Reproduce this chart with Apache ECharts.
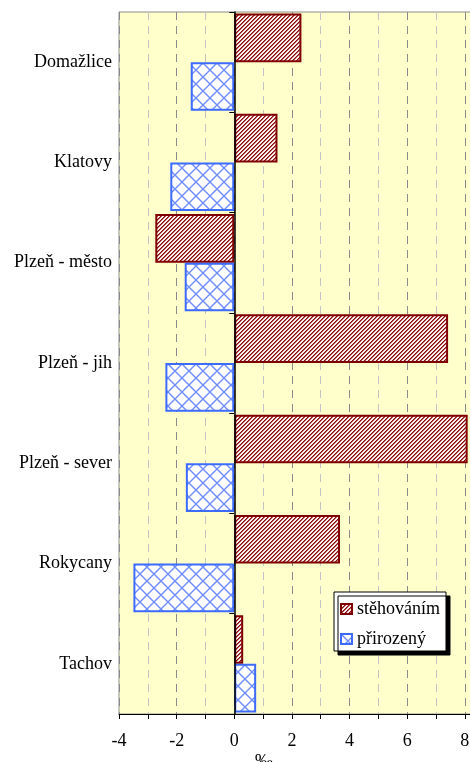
<!DOCTYPE html>
<html>
<head>
<meta charset="utf-8">
<script src="https://cdn.jsdelivr.net/npm/echarts@6/dist/echarts.min.js"></script>
<style>
  body { margin: 0; background: #fff; }
  #chart { width: 470px; height: 762px; }
</style>
</head>
<body>
<div id="chart"></div>
<script>
const okresy = ['Domažlice', 'Klatovy', 'Plzeň - město', 'Plzeň - jih', 'Plzeň - sever', 'Rokycany', 'Tachov'];
const stehovanim = [2.33, 1.5, -2.74, 7.42, 8.1, 3.67, 0.31];
const prirozeny = [-1.51, -2.22, -1.72, -2.39, -1.68, -3.5, 0.76];
const xTicks = { min: -4, max: 9, step: 1 };
const jednotka = '‰';

const serif = '"Liberation Serif", "DejaVu Serif", serif';

// vzor šrafování - červené šikmé pruhy
function pruhy() {
  const c = document.createElement('canvas');
  c.width = c.height = 4;
  const g = c.getContext('2d');
  const barvy = ['#8b0a0a', '#b85a5a', '#ffffff', '#f6e4e4'];
  for (let i = 0; i < 4; i++) {
    for (let j = 0; j < 4; j++) {
      g.fillStyle = barvy[(i + j) % 4];
      g.fillRect(i, j, 1, 1);
    }
  }
  return c;
}

// vzor - modrá mřížka (kosočtverce)
function mrizka() {
  const s = 14;
  const c = document.createElement('canvas');
  c.width = c.height = s;
  const g = c.getContext('2d');
  g.fillStyle = '#ffffff';
  g.fillRect(0, 0, s, s);
  g.strokeStyle = '#6f8cff';
  g.lineWidth = 1.4;
  g.beginPath();
  g.moveTo(-1, -1); g.lineTo(s + 1, s + 1);
  g.moveTo(-1, s + 1); g.lineTo(s + 1, -1);
  g.stroke();
  return c;
}

const chart = echarts.init(document.getElementById('chart'));
chart.setOption({
  animation: false,
  grid: {
    left: 119,
    top: 12,
    bottom: 48,
    right: -23.6,
    outerBoundsMode: 'none',
    show: true,
    backgroundColor: '#ffffcc',
    borderColor: '#8c8c8c',
    borderWidth: 1
  },
  legend: {
    orient: 'vertical',
    left: 334,
    top: 592,
    padding: [8, 6, 3, 6],
    itemGap: 12,
    itemWidth: 11,
    itemHeight: 10,
    icon: 'rect',
    backgroundColor: '#fff',
    borderColor: '#000',
    borderWidth: 1,
    borderRadius: 0,
    shadowColor: '#000',
    shadowBlur: 0,
    shadowOffsetX: 4,
    shadowOffsetY: 4,
    textStyle: { fontFamily: serif, fontSize: 18, color: '#000' },
    data: ['stěhováním', 'přirozený']
  },
  xAxis: {
    type: 'value',
    min: xTicks.min,
    max: xTicks.max,
    interval: xTicks.step,
    axisLine: { show: true, onZero: false, lineStyle: { color: '#000', width: 1 } },
    axisTick: { show: true, length: 5, lineStyle: { color: '#000' } },
    axisLabel: {
      margin: 18,
      fontFamily: serif,
      fontSize: 18,
      color: '#000',
      showMaxLabel: true,
      formatter: v => (v % 2 === 0 ? String(v) : '')
    },
    splitLine: {
      show: true,
      lineStyle: { type: [8, 6], color: ['#8a8a8a', '#c4c4c4'], width: 1 }
    }
  },
  yAxis: [
    {
      type: 'category',
      data: okresy,
      inverse: true,
      axisLine: { show: false, onZero: false },
      axisTick: { show: false },
      axisLabel: { margin: 7, fontFamily: serif, fontSize: 18, color: '#000' },
      splitLine: { show: false }
    },
    {
      type: 'category',
      data: okresy,
      inverse: true,
      position: 'left',
      z: 5,
      axisLine: { show: true, onZero: true, lineStyle: { color: '#000', width: 1.5 } },
      axisTick: { show: true, length: 5, lineStyle: { color: '#000' } },
      axisLabel: { show: false },
      splitLine: { show: false }
    }
  ],
  graphic: [
    {
      type: 'text',
      left: 255,
      top: 753,
      style: { text: jednotka, fontFamily: serif, fontSize: 18, fill: '#000' }
    }
  ],
  series: [
    {
      name: 'stěhováním',
      type: 'bar',
      data: stehovanim,
      barGap: '0%',
      barCategoryGap: '3%',
      clip: false,
      itemStyle: {
        color: { image: pruhy(), repeat: 'repeat' },
        borderColor: '#800000',
        borderWidth: 2
      }
    },
    {
      name: 'přirozený',
      type: 'bar',
      data: prirozeny,
      barGap: '0%',
      barCategoryGap: '3%',
      clip: false,
      itemStyle: {
        color: { image: mrizka(), repeat: 'repeat' },
        borderColor: '#3d6bff',
        borderWidth: 2
      }
    }
  ]
});
</script>
</body>
</html>
